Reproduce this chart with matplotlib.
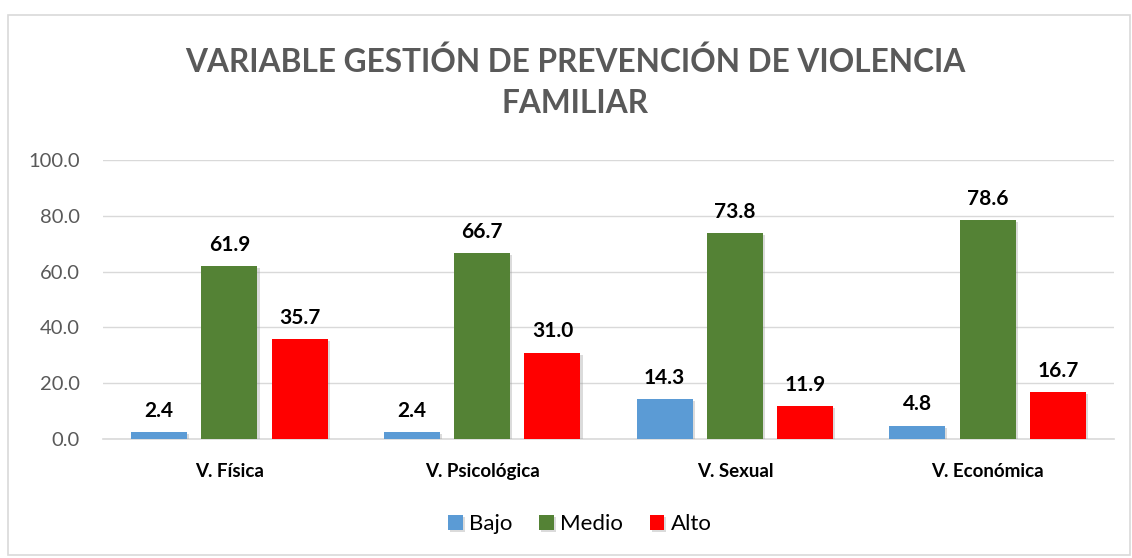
import matplotlib
matplotlib.use("Agg")
import matplotlib.pyplot as plt
import matplotlib.patheffects as pe
from matplotlib.patches import Rectangle
import numpy as np

categories = ["V. Física", "V. Psicológica", "V. Sexual", "V. Económica"]
series_names = ["Bajo", "Medio", "Alto"]
bajo = [2.4, 2.4, 14.3, 4.8]
medio = [61.9, 66.7, 73.8, 78.6]
alto = [35.7, 31.0, 11.9, 16.7]
yticks = [0, 20, 40, 60, 80, 100]
title = "VARIABLE GESTIÓN DE PREVENCIÓN DE VIOLENCIA\nFAMILIAR"

colors = ["#5B9BD5", "#548235", "#FF0000"]
FONT = ["Lato", "DejaVu Sans"]
plt.rcParams['font.family'] = FONT

fig = plt.figure(figsize=(11.32, 5.58), dpi=100)
fig.patches.append(Rectangle((8/1132, 3/558), 1122/1132, 540/558, transform=fig.transFigure,
                             fill=False, edgecolor="#D9D9D9", linewidth=1.2))
ax = fig.add_axes([103/1132, 1-439/558, (1114-103)/1132, (439-160)/558])

x = np.arange(len(categories))
w = 0.222
off = 0.278
shadow = [pe.SimplePatchShadow(offset=(1.5, -1.5), shadow_rgbFace="#999999", alpha=0.35), pe.Normal()]
for i, (vals, name) in enumerate(zip([bajo, medio, alto], series_names)):
    bars = ax.bar(x + (i - 1) * off, vals, width=w, color=colors[i], label=name, zorder=3)
    for b in bars:
        b.set_path_effects(shadow)
    for xi, v in zip(x, vals):
        ax.text(xi + (i - 1) * off, v + 4, f"{v:.1f}", ha="center", va="bottom",
                fontsize=15, fontweight="bold", color="#000000", zorder=4)

ax.set_xlim(-0.5, len(categories) - 0.5)
ax.set_ylim(0, 100)
ax.set_yticks(yticks)
ax.set_yticklabels([f"{t:.1f}" for t in yticks], fontsize=14.5, color="#595959")
ax.set_xticks(x)
ax.set_xticklabels(categories, fontsize=13.5, fontweight="bold", color="#000000")
ax.tick_params(axis="both", length=0)
ax.tick_params(axis="x", pad=17)
ax.tick_params(axis="y", pad=16.5)
ax.grid(axis="y", color="#D9D9D9", linewidth=1, zorder=0)
for s in ["top", "right", "left"]:
    ax.spines[s].set_visible(False)
ax.spines["bottom"].set_color("#D9D9D9")
ax.spines["bottom"].set_linewidth(1.2)

fig.text(575/1132, 1-82/558, title, ha="center", va="center", fontsize=22.8,
         fontweight="bold", color="#595959", linespacing=1.5)

fig.legend(loc="center", bbox_to_anchor=(580/1132, 1-524/558), ncol=3, frameon=False,
           fontsize=16, handlelength=0.65, handleheight=0.65, handletextpad=0.3, columnspacing=1.2)

fig.savefig("out.png", dpi=100, facecolor="white")
